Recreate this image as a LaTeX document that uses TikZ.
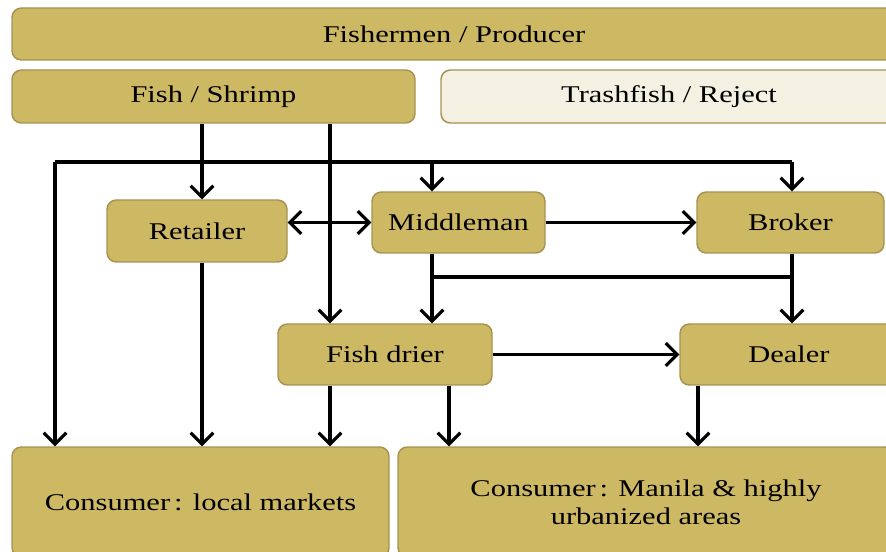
\documentclass[tikz,border=0pt]{standalone}
\usepackage{fontspec}
\setmainfont{Liberation Serif}[FakeStretch=1.27]
\usetikzlibrary{arrows.meta}
\definecolor{khaki}{RGB}{205,184,99}
\definecolor{khakiline}{RGB}{166,147,84}
\definecolor{cream}{RGB}{245,241,226}

\begin{document}
\begin{tikzpicture}[x=0.75pt,y=0.75pt,yscale=-1,xscale=1,
  box/.style={draw=khakiline,fill=khaki,line width=1.1pt,rounded corners=7pt,inner sep=0pt,align=center,font=\fontsize{18}{21}\selectfont},
  pale/.style={box,fill=cream},
  flow/.style={line width=2.3pt,black},
  arr/.style={flow,-{Straight Barb[length=8.5pt,width=17pt]}},
  darr/.style={flow,{Straight Barb[length=8.5pt,width=17pt]}-{Straight Barb[length=8.5pt,width=17pt]}}]
\clip (0,0) rectangle (886,552);

% boxes
\node [box,minimum width=663pt,minimum height=39pt] (prod) at (454,34) {Fishermen / Producer};
\node [box,minimum width=302.25pt,minimum height=39.75pt] (fish) at (213.5,96.5) {Fish / Shrimp};
\node [pale,minimum width=342pt,minimum height=39.75pt] (trash) at (669,96.5) {Trashfish / Reject};
\node [box,minimum width=135pt,minimum height=46.5pt] (retail) at (197,231) {Retailer};
\node [box,minimum width=129.75pt,minimum height=45.75pt] (middle) at (458.5,222.5) {Middleman};
\node [box,minimum width=140.25pt,minimum height=45.75pt] (broker) at (790.5,222.5) {Broker};
\node [box,minimum width=160.5pt,minimum height=45.75pt] (drier) at (385,354.5) {Fish drier};
\node [box,minimum width=163.5pt,minimum height=45.75pt] (dealer) at (789,354.5) {Dealer};
\node [box,minimum width=282.75pt,minimum height=82.5pt] (local) at (200.5,502) {Consumer\,: local markets};
\node [box,minimum width=372pt,minimum height=82.5pt] (manila) at (646,502) {Consumer\,: Manila \& highly\\urbanized areas};

% columns and bus lines
\coordinate (busL) at (55,162);
\coordinate (busR) at (792,162);
\coordinate (midL) at (432,277);
\coordinate (midR) at (792,277);
\coordinate (colB) at (202,0);
\coordinate (colC) at (330,0);
\coordinate (colF) at (449,0);
\coordinate (colG) at (698,0);

% fish / shrimp
\draw [arr] (fish.south -| colB) -- (retail.north -| colB);
\draw [arr] (fish.south -| colC) -- (drier.north -| colC);
\draw [flow] (busL) -- (busR);
\draw [arr] (busL) -- (local.north -| busL);
\draw [arr] (busR) -- (broker.north -| busR);
\draw [arr] (busL -| midL) -- (middle.north -| midL);

% middle row
\draw [darr] (retail.east |- middle) -- (middle.west);
\draw [arr] (middle.east) -- (broker.west);
\draw [arr] (middle.south -| midL) -- (drier.north -| midL);
\draw [flow] (midL) -- (midR);
\draw [arr] (broker.south -| midR) -- (dealer.north -| midR);
\draw [arr] (drier.east) -- (dealer.west);

% to consumers
\draw [arr] (retail.south -| colB) -- (local.north -| colB);
\draw [arr] (drier.south -| colC) -- (local.north -| colC);
\draw [arr] (drier.south -| colF) -- (manila.north -| colF);
\draw [arr] (dealer.south -| colG) -- (manila.north -| colG);

\end{tikzpicture}
\end{document}
